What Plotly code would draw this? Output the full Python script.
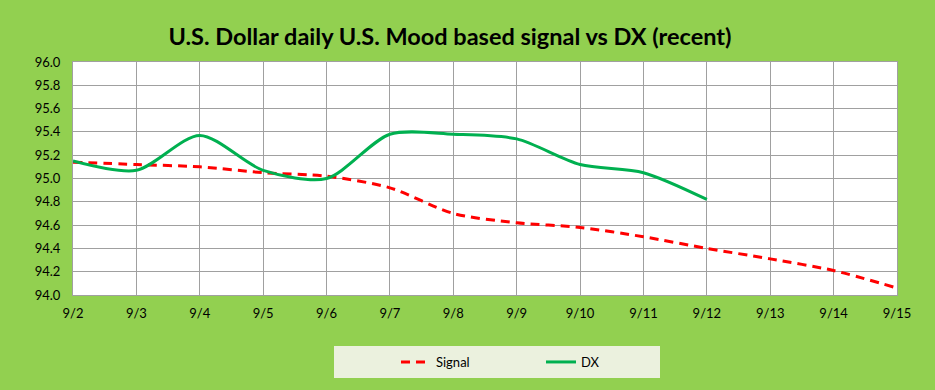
import plotly.graph_objects as go

dates = ["9/2", "9/3", "9/4", "9/5", "9/6", "9/7", "9/8", "9/9", "9/10", "9/11", "9/12", "9/13", "9/14", "9/15"]
signal = [95.14, 95.12, 95.10, 95.05, 95.02, 94.92, 94.70, 94.62, 94.58, 94.50, 94.40, 94.31, 94.21, 94.06]
dx = [95.15, 95.07, 95.37, 95.07, 95.00, 95.38, 95.38, 95.34, 95.12, 95.05, 94.82]

W, H = 935, 390
L, R, T, B = 73, 38, 62, 95
pw, ph = W - L - R, H - T - B

def px(x):
    return (x - L) / pw

def py(y):
    return (H - B - y) / ph

fig = go.Figure()
fig.add_trace(go.Scatter(x=dates, y=signal, name="Signal", mode="lines",
                         line=dict(color="#FF0000", width=3, dash="9px,6px", shape="spline", smoothing=0.8)))
fig.add_trace(go.Scatter(x=dates[:len(dx)], y=dx, name="DX", mode="lines",
                         line=dict(color="#00B050", width=3, shape="spline", smoothing=0.8)))

font = "Lato, Carlito, 'Open Sans', sans-serif"
fig.update_layout(
    width=W, height=H,
    margin=dict(l=L, r=R, t=T, b=B),
    paper_bgcolor="#92D050",
    plot_bgcolor="#FFFFFF",
    font=dict(family=font, size=13, color="#000000"),
    title=dict(text="<b>U.S. Dollar daily U.S. Mood based signal vs DX (recent)</b>",
               x=450 / W, xanchor="center", y=1 - 37 / H, yanchor="middle",
               font=dict(family=font, size=23.5, color="#000000")),
    xaxis=dict(type="category", range=[0, 13], showgrid=True, gridcolor="#A0A0A0", gridwidth=1,
               showline=True, linecolor="#A0A0A0", mirror=True, ticks="", zeroline=False,
               tickfont=dict(size=13), ticklabelstandoff=6, fixedrange=True),
    yaxis=dict(range=[94, 96], dtick=0.2, tick0=94, tickformat=".1f", showgrid=True,
               gridcolor="#A0A0A0", gridwidth=1, showline=True, linecolor="#A0A0A0", mirror=True,
               ticks="", zeroline=False, tickfont=dict(size=13), ticklabelstandoff=9, fixedrange=True),
    legend=dict(orientation="h", x=px(396), xanchor="left", y=py(362), yanchor="middle",
                bgcolor="rgba(0,0,0,0)", font=dict(size=13), entrywidth=100, entrywidthmode="pixels"),
    shapes=[dict(type="rect", xref="paper", yref="paper", x0=px(334), x1=px(660), y0=py(378), y1=py(346),
                 fillcolor="#EBF1DE", line=dict(width=0), layer="below")],
)

fig.write_html("out.html", config={"displayModeBar": False},
               post_script="document.body.style.margin='0px';document.body.style.overflow='hidden';")
